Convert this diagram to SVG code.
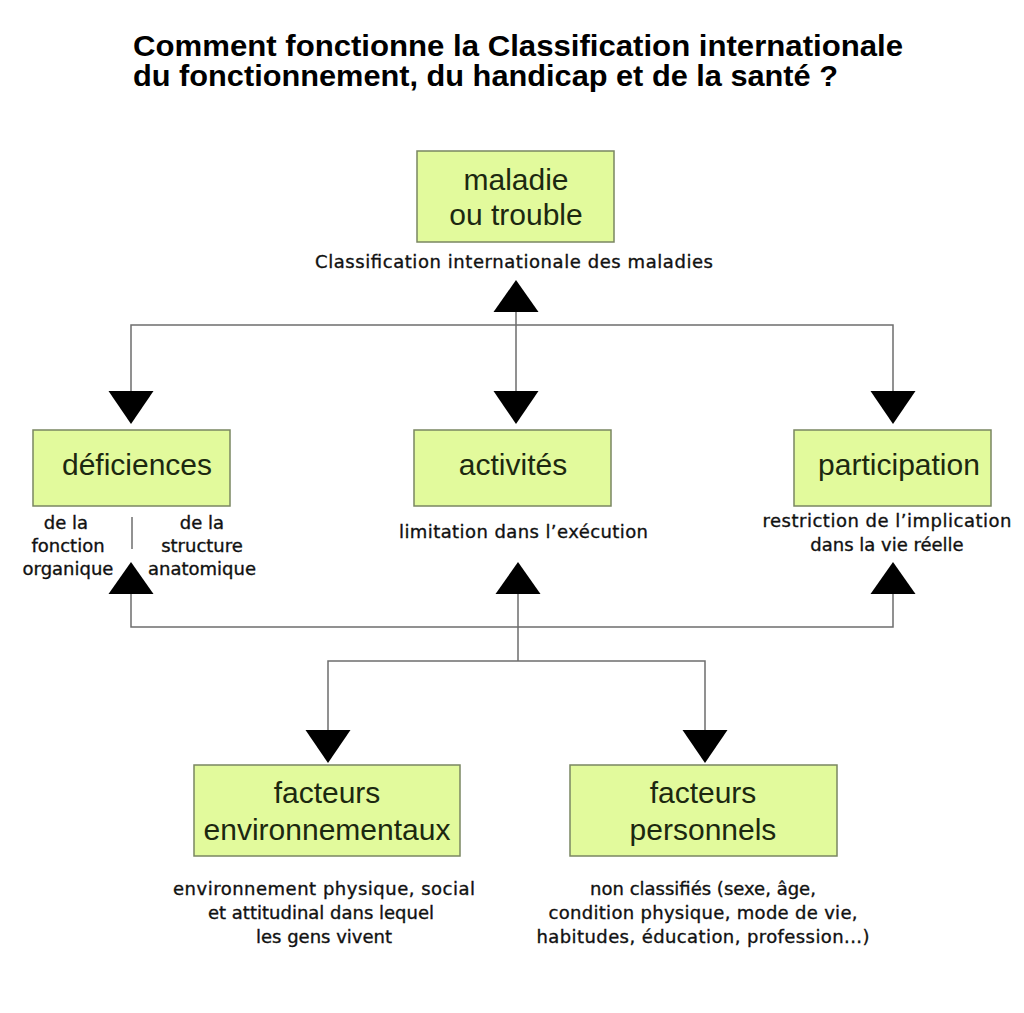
<svg xmlns="http://www.w3.org/2000/svg" width="1024" height="1013" viewBox="0 0 1024 1013">
<style>
.box{fill:#e2fa9c;stroke:#7a8662;stroke-width:1.5}
.bt{font-family:"Liberation Sans",Arial,sans-serif;font-size:30px;fill:#1c2810;text-anchor:middle}
.st{font-family:"DejaVu Sans","Liberation Sans",sans-serif;font-size:18px;fill:#111;stroke:#111;stroke-width:0.35;text-anchor:middle}
.title{font-family:"Liberation Sans",Arial,sans-serif;font-weight:bold;font-size:29px;fill:#000}
.ln{fill:none;stroke:#6e6e6e;stroke-width:1.5}
</style>
<defs>
<path id="dn" d="M-22.5,0 H22.5 L0,33 Z" fill="#000"/>
<path id="up" d="M-22.5,0 H22.5 L0,-32 Z" fill="#000"/>
</defs>
<rect width="1024" height="1013" fill="#fff"/>
<g id="title">
<text class="title" x="133" y="56" textLength="770" lengthAdjust="spacingAndGlyphs">Comment fonctionne la Classification internationale</text>
<text class="title" x="133" y="86" textLength="705" lengthAdjust="spacingAndGlyphs">du fonctionnement, du handicap et de la santé ?</text>
</g>
<g id="connectors">
<path class="ln" d="M131,391 V325 H893 V391 M516,312 V391"/>
<path class="ln" d="M131,594 V627 H893 V594 M518,594 V661 M328,730 V661 H705 V730"/>
<path class="ln" d="M132,517 V549"/>
<use href="#up" x="516" y="312"/>
<use href="#dn" x="131" y="391"/>
<use href="#dn" x="516" y="391"/>
<use href="#dn" x="893" y="391"/>
<use href="#up" x="131" y="594"/>
<use href="#up" x="518" y="594"/>
<use href="#up" x="893" y="594"/>
<use href="#dn" x="328" y="730"/>
<use href="#dn" x="705" y="730"/>
</g>
<g id="maladie">
<rect class="box" x="417" y="151" width="197" height="91"/>
<text class="bt" x="516" y="190">maladie</text>
<text class="bt" x="516" y="225">ou trouble</text>
<text class="st" x="514" y="268" textLength="398">Classification internationale des maladies</text>
</g>
<g id="deficiences">
<rect class="box" x="33" y="430" width="197" height="76"/>
<text class="bt" x="137" y="475">déficiences</text>
<text class="st" x="66" y="529">de la</text>
<text class="st" x="68" y="552">fonction</text>
<text class="st" x="68" y="575">organique</text>
<text class="st" x="202" y="529">de la</text>
<text class="st" x="202" y="552">structure</text>
<text class="st" x="202" y="575">anatomique</text>
</g>
<g id="activites">
<rect class="box" x="414" y="430" width="197" height="76"/>
<text class="bt" x="513" y="475">activités</text>
<text class="st" x="523.5" y="538" textLength="249">limitation dans l’exécution</text>
</g>
<g id="participation">
<rect class="box" x="794" y="430" width="197" height="76"/>
<text class="bt" x="899" y="475">participation</text>
<text class="st" x="887" y="527" textLength="249">restriction de l’implication</text>
<text class="st" x="887" y="551">dans la vie réelle</text>
</g>
<g id="facteurs-env">
<rect class="box" x="194" y="765" width="266" height="91"/>
<text class="bt" x="327" y="803">facteurs</text>
<text class="bt" x="327" y="840">environnementaux</text>
<text class="st" x="324" y="895" textLength="302">environnement physique, social</text>
<text class="st" x="321" y="919">et attitudinal dans lequel</text>
<text class="st" x="324" y="943">les gens vivent</text>
</g>
<g id="facteurs-pers">
<rect class="box" x="570" y="765" width="267" height="91"/>
<text class="bt" x="703" y="803">facteurs</text>
<text class="bt" x="703" y="840">personnels</text>
<text class="st" x="703" y="895">non classifiés (sexe, âge,</text>
<text class="st" x="703" y="919" textLength="309">condition physique, mode de vie,</text>
<text class="st" x="703" y="943" textLength="333">habitudes, éducation, profession...)</text>
</g>
</svg>
